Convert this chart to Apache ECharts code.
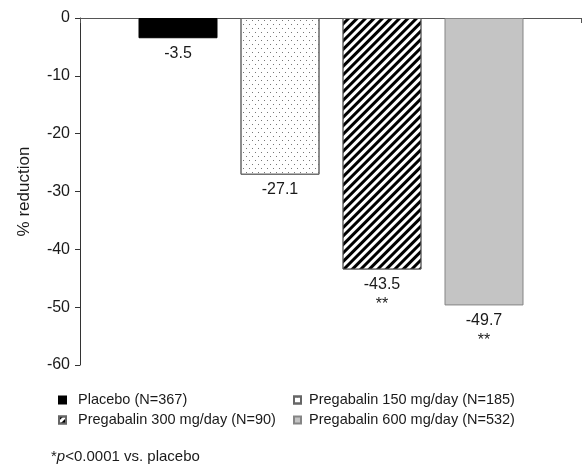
<!DOCTYPE html>
<html>
<head>
<meta charset="utf-8">
<style>
  html, body { margin: 0; padding: 0; background: #fff; }
  #main { width: 582px; height: 467px; }
</style>
<script src="https://cdn.jsdelivr.net/npm/echarts@6/dist/echarts.min.js"></script>
</head>
<body>
<div id="main"></div>
<script>
var groups = ['Placebo (N=367)', 'Pregabalin 150 mg/day (N=185)', 'Pregabalin 300 mg/day (N=90)', 'Pregabalin 600 mg/day (N=532)'];
var reductions = [-3.5, -27.1, -43.5, -49.7];
var marks = ['', '', '**', '**'];
var yTicks = [0, -10, -20, -30, -40, -50, -60];

var font = 'Liberation Sans, Arial, sans-serif';

var looks = [
  { color: '#000', borderColor: '#000' },
  { color: '#fff', borderColor: '#666',
    decal: { symbol: 'rect', symbolSize: 1, color: '#777', dashArrayX: [[1, 5], [0, 3, 1, 2]], dashArrayY: [1, 3], rotation: 0 } },
  { color: '#fff', borderColor: '#666',
    decal: { symbol: 'rect', symbolSize: 1, color: '#000', dashArrayX: [1, 0], dashArrayY: [2.3, 2.3], rotation: -Math.PI / 4 } },
  { color: '#c4c4c4', borderColor: '#858585' }
];

var myChart = echarts.init(document.getElementById('main'));

var series = groups.map(function (name, i) {
  return {
    name: name,
    type: 'bar',
    xAxisIndex: 0,
    yAxisIndex: 0,
    barWidth: 79,
    barGap: '-100%',
    data: reductions.map(function (v, j) { return j === i ? v : '-'; }),
    itemStyle: Object.assign({ borderWidth: 1 }, looks[i]),
    label: {
      show: true,
      position: 'bottom',
      distance: 5,
      formatter: function (p) {
        return marks[i] ? '{v|' + p.value + '}\n{s|' + marks[i] + '}' : '{v|' + p.value + '}';
      },
      rich: {
        v: { fontFamily: font, fontSize: 16, color: '#1a1a1a', lineHeight: 20 },
        s: { fontFamily: font, fontSize: 16, color: '#1a1a1a', lineHeight: 20 }
      }
    },
    emphasis: { disabled: true }
  };
});

function legendText(pad) {
  return { fontFamily: font, fontSize: 14.5, color: '#1a1a1a', lineHeight: 16, padding: [0, 0, 0, pad] };
}

var option = {
  animation: false,
  aria: { enabled: false },
  grid: [
    { left: 127, right: 47, top: 18, bottom: 102 },
    { left: 80, right: 1, top: 18, bottom: 102 }
  ],
  xAxis: [
    { type: 'category', gridIndex: 0, data: groups, axisLine: { show: false }, axisTick: { show: false }, axisLabel: { show: false } },
    { type: 'category', gridIndex: 1, position: 'top', data: [''],
      axisLine: { lineStyle: { color: '#555', width: 1 } },
      axisTick: { show: true, inside: true, length: 5, lineStyle: { color: '#555' } },
      axisLabel: { show: false } }
  ],
  yAxis: [
    { type: 'value', gridIndex: 0, min: yTicks[yTicks.length - 1], max: yTicks[0], interval: 10, offset: 47,
      name: '% reduction', nameLocation: 'middle', nameGap: 47,
      nameTextStyle: { fontFamily: font, fontSize: 17, color: '#1a1a1a' },
      axisLine: { show: true, lineStyle: { color: '#333' } },
      axisTick: { show: true, length: 5, lineStyle: { color: '#333' } },
      axisLabel: { fontFamily: font, fontSize: 16, color: '#1a1a1a', margin: 10 },
      splitLine: { show: false } },
    { type: 'value', gridIndex: 1, min: -60, max: 0, show: false }
  ],
  legend: [
    { data: [groups[0], groups[2]], orient: 'vertical', left: 53, top: 387, itemWidth: 7, itemHeight: 7, itemGap: 4,
      icon: 'rect', selectedMode: false, textStyle: legendText(7) },
    { data: [groups[1], groups[3]], orient: 'vertical', left: 288, top: 387, itemWidth: 7, itemHeight: 7, itemGap: 4,
      icon: 'rect', selectedMode: false, textStyle: legendText(3) }
  ],
  title: {
    text: '{a|*}{i|p}{a|<0.0001 vs. placebo}',
    left: 51,
    top: 449,
    padding: 0,
    textStyle: {
      rich: {
        a: { fontFamily: font, fontSize: 15, color: '#1a1a1a', fontWeight: 'normal' },
        i: { fontFamily: font, fontSize: 15, color: '#1a1a1a', fontWeight: 'normal', fontStyle: 'italic' }
      }
    }
  },
  series: series
};
myChart.setOption(option);
</script>
</body>
</html>
